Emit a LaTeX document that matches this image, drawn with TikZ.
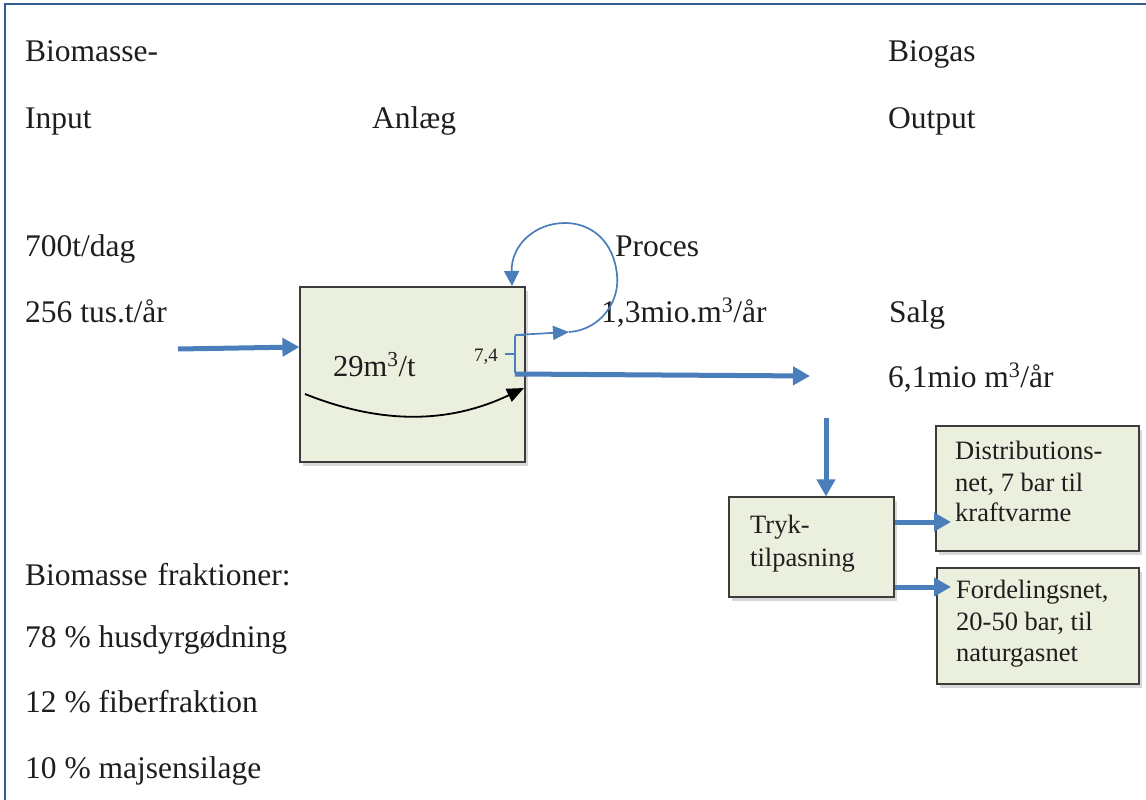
\documentclass[tikz,border=0pt]{standalone}
\usepackage{fontspec}
\setmainfont{Liberation Serif}
\usetikzlibrary{arrows.meta,shadows}
\definecolor{flowblue}{RGB}{74,126,187}
\definecolor{boxfill}{RGB}{235,239,222}
\definecolor{boxline}{RGB}{60,60,60}
\definecolor{framecol}{RGB}{54,95,145}
\definecolor{txt}{RGB}{30,30,30}
\tikzset{
  lbl/.style={anchor=base west, inner sep=0pt, text=txt, font=\fontsize{31.5}{37}\selectfont},
  smalllbl/.style={anchor=base west, inner sep=0pt, text=txt, font=\fontsize{26.5}{31}\selectfont},
  procbox/.style={draw=boxline, line width=1.2pt, fill=boxfill, inner sep=0pt,
     drop shadow={shadow xshift=3pt, shadow yshift=-4pt, fill=black!30}},
  thick flow/.style={draw=flowblue, line width=5pt, -{Triangle[length=17pt,width=18pt]}},
  thin flow/.style={draw=flowblue, line width=1.7pt},
}
\begin{document}
\begin{tikzpicture}[x=1pt,y=-1pt]
\useasboundingbox (0,0) rectangle (1146,800);
% frame
\draw[framecol, line width=1.5pt] (5,800) -- (5,4) -- (1146,4);

% header labels
\node[lbl] (bm) at (25,62) {Biomasse-};
\node[lbl] (inp) at (25,128) {Input};
\node[lbl] (anl) at (372,128) {Anlæg};
\node[lbl] (bg) at (888,62) {Biogas};
\node[lbl] (outp) at (888,128) {Output};

\node[lbl] (dag) at (25,256) {700t/dag};
\node[lbl] (aar) at (25,322) {256 tus.t/år};
\node[lbl] (proc) at (615,256) {Proces};
\node[lbl] (pm) at (601,322) {1,3mio.m\textsuperscript{3}/år};
\node[lbl] (salg) at (889,322) {Salg};
\node[lbl] (sm) at (888,387) {6,1mio m\textsuperscript{3}/år};

\node[lbl] (bf) at (25,585) {Biomasse\hspace{10pt}fraktioner:};
\node[lbl] (f1) at (25,647) {78 \% husdyrgødning};
\node[lbl] (f2) at (25,712) {12 \% fiberfraktion};
\node[lbl] (f3) at (25,778) {10 \% majsensilage};

% plant box
\node[procbox, minimum width=225pt, minimum height=175pt] (plant) at (412.5,374.5) {};
\node[lbl, font=\fontsize{30.5}{36}\selectfont] (yield) at (333,376) {29m\textsuperscript{3}/t};
\node[anchor=base west, inner sep=0pt, text=txt, font=\fontsize{19}{22}\selectfont] (v74) at (474,361) {7,4};

% black curve
\coordinate (cs) at (305,394);
\coordinate (ce) at (524,388);
\draw[black, line width=1.8pt, -{Triangle[length=17pt,width=14pt]}] (cs) .. controls (370,420) and (440,428) .. (ce);

% bracket
\coordinate (btop) at (515,335);
\coordinate (bbot) at (515,374);
\draw[thin flow, rounded corners=2pt] (525,335) -- (btop) -- (bbot) -- (525,374);
\draw[thin flow] (505,354) -- (515,354);

% recycle loop
\coordinate (lp) at (569,332);
\coordinate (ltop) at (512,286);
\draw[thin flow, -{Triangle[length=16pt,width=14pt]}] (btop) -- (lp);
\draw[thin flow, -{Triangle[length=15pt,width=15pt]}] (lp) .. controls (600,330) and (620,302) .. (617,275)
   .. controls (614,242) and (592,223) .. (565,223)
   .. controls (535,223) and (511,245) .. (ltop);

% input arrow
\coordinate (inA) at (178,349);
\draw[thick flow] (inA) -- (plant.west |- 0,347);

% output arrow
\coordinate (outE) at (810,376);
\draw[thick flow] (bbot) -- (outE);

% pressure box
\node[procbox, minimum width=165pt, minimum height=100pt] (tryk) at (811.5,547) {};
\node[smalllbl] (trykt1) at (750,533) {Tryk-};
\node[smalllbl] (trykt2) at (750,566) {tilpasning};

\coordinate (dn) at (826,418);
\draw[thick flow] (dn) -- (tryk.north -| dn);

% distribution boxes
\node[procbox, minimum width=203pt, minimum height=125pt] (dist) at (1037.5,488.5) {};
\node[smalllbl] (d1) at (955,459) {Distributions-};
\node[smalllbl] (d2) at (955,491) {net, 7 bar til};
\node[smalllbl] (d3) at (955,521) {kraftvarme};

\node[procbox, minimum width=202pt, minimum height=116pt] (ford) at (1038,626) {};
\node[smalllbl] (g1) at (956,598) {Fordelingsnet,};
\node[smalllbl] (g2) at (956,630) {20-50 bar, til};
\node[smalllbl] (g3) at (956,661) {naturgasnet};

\draw[thick flow] (tryk.east |- 0,522) -- (951,522);
\draw[thick flow] (tryk.east |- 0,587) -- (951,587);
\end{tikzpicture}
\end{document}
